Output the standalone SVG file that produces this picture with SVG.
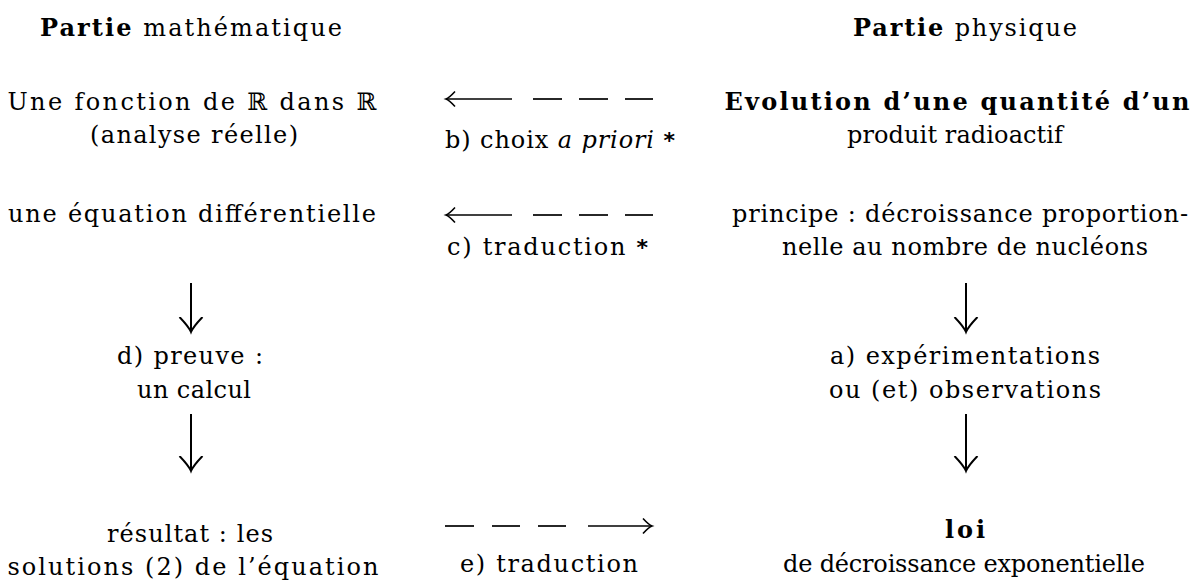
<svg xmlns="http://www.w3.org/2000/svg" width="1204" height="580" viewBox="0 0 1204 580">
<defs>
<style>
text{font-family:"DejaVu Serif","Liberation Serif",serif;font-size:24px;fill:#000;text-anchor:middle}
.b{font-weight:bold}
.i{font-style:italic}
.st{text-anchor:start}
.ast{font-family:"DejaVu Sans",sans-serif;font-size:22px;font-weight:bold}
.ln{stroke:#000;stroke-width:1.7;fill:none}
.vln{stroke:#000;stroke-width:2;fill:none}
</style>
<marker id="hh" markerUnits="userSpaceOnUse" markerWidth="20" markerHeight="20" viewBox="-10 -10 20 20" refX="0" refY="0" orient="auto">
<path d="M -9 -7.5 Q -3 -1 0 0 Q -3 1 -9 7.5" fill="none" stroke="#000" stroke-width="1.6"/>
</marker>
<marker id="vh" markerUnits="userSpaceOnUse" markerWidth="30" markerHeight="30" viewBox="-15 -15 30 30" refX="0" refY="0" orient="auto">
<path d="M -15 -11.5 Q -5 -2 0 0 Q -5 2 -15 11.5" fill="none" stroke="#000" stroke-width="2"/>
</marker>
</defs>
<rect width="1204" height="580" fill="#fff"/>

<g id="header-math"><text x="191" y="36" textLength="302"><tspan class="b">Partie</tspan> mathématique</text></g>
<g id="header-phys"><text x="965" y="36" textLength="224"><tspan class="b">Partie</tspan> physique</text></g>

<g id="fonction">
<text x="192" y="110" textLength="369">Une fonction de ℝ dans ℝ</text>
<text x="194" y="143" textLength="208">(analyse réelle)</text>
</g>
<g id="evolution">
<text x="957" y="110" class="b" textLength="465">Evolution d’une quantité d’un</text>
<text x="955" y="143" textLength="216">produit radioactif</text>
</g>
<g id="equation"><text x="192" y="222" textLength="368">une équation différentielle</text></g>
<g id="principe">
<text x="960" y="222" textLength="456">principe : décroissance proportion-</text>
<text x="965" y="255" textLength="366">nelle au nombre de nucléons</text>
</g>
<g id="preuve">
<text x="190" y="364" textLength="146">d) preuve :</text>
<text x="194" y="398" textLength="114">un calcul</text>
</g>
<g id="experimentations">
<text x="965" y="364" textLength="270">a) expérimentations</text>
<text x="965" y="398" textLength="272">ou (et) observations</text>
</g>
<g id="resultat">
<text x="190" y="542" textLength="166">résultat : les</text>
<text x="193" y="575" textLength="371">solutions (2) de l’équation</text>
</g>
<g id="loi">
<text x="965" y="538" class="b" textLength="40">loi</text>
<text x="964" y="572" textLength="362">de décroissance exponentielle</text>
</g>

<g id="connectors">
<g id="b-choix">
<line class="ln" x1="512" y1="99" x2="446" y2="99" marker-end="url(#hh)"/>
<line class="ln" x1="533" y1="99" x2="562" y2="99"/>
<line class="ln" x1="579" y1="99" x2="608" y2="99"/>
<line class="ln" x1="625" y1="99" x2="653" y2="99"/>
<text x="445" y="148" class="st" textLength="230">b) choix <tspan class="i">a priori</tspan> <tspan class="ast">*</tspan></text>
</g>
<g id="c-traduction">
<line class="ln" x1="512" y1="215" x2="446" y2="215" marker-end="url(#hh)"/>
<line class="ln" x1="533" y1="215" x2="562" y2="215"/>
<line class="ln" x1="579" y1="215" x2="608" y2="215"/>
<line class="ln" x1="625" y1="215" x2="653" y2="215"/>
<text x="447" y="255" class="st" textLength="201">c) traduction <tspan class="ast">*</tspan></text>
</g>
<g id="e-traduction">
<line class="ln" x1="445" y1="526" x2="474" y2="526"/>
<line class="ln" x1="492" y1="526" x2="520" y2="526"/>
<line class="ln" x1="538" y1="526" x2="566" y2="526"/>
<line class="ln" x1="588" y1="526" x2="652" y2="526" marker-end="url(#hh)"/>
<text x="549" y="572" textLength="178">e) traduction</text>
</g>
<line class="vln" x1="191" y1="283" x2="191" y2="332" marker-end="url(#vh)"/>
<line class="vln" x1="191" y1="414" x2="191" y2="471" marker-end="url(#vh)"/>
<line class="vln" x1="966" y1="283" x2="966" y2="332" marker-end="url(#vh)"/>
<line class="vln" x1="966" y1="414" x2="966" y2="471" marker-end="url(#vh)"/>
</g>
</svg>
